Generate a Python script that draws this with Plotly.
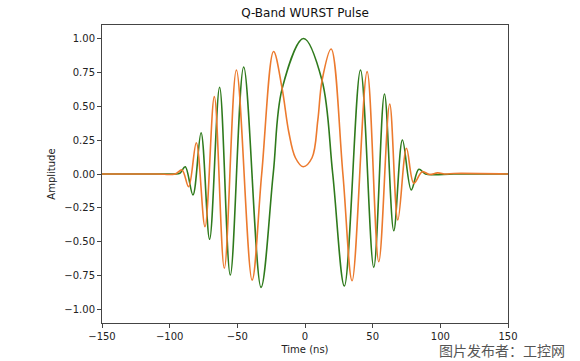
import plotly.graph_objects as go

# Green trace: time (ns) and amplitude at extrema / zero crossings
green_t = [-150, -110, -97, -92.5, -88.5, -82.8, -76.8, -70.5, -63.1, -55.2, -45.3,
           -32.5, -23.5, -16.9, -1.0, 12.6, 20.5, 29.1, 41.0, 50.8, 58.7,
           65.6, 72.0, 78.5, 84.1, 89, 95, 110, 150]
green_v = [0.0, 0.0, 0.0, 0.005, 0.054, -0.155, 0.305, -0.482, 0.640, -0.746, 0.790,
           -0.837, 0.0, 0.63, 1.0, 0.69, 0.0, -0.827, 0.768, -0.689, 0.591,
           -0.419, 0.251, -0.118, 0.035, 0.0, -0.006, 0.0, 0.0]

# Orange trace
orange_t = [-150, -110, -96, -90.9, -86.0, -80.3, -73.9, -67.0, -59.6, -50.7, -39.1,
            -32.0, -23.2, -16.9, -12.0, -7.1, -1.4, 5.2, 9.5, 12.6, 19.3, 28.0, 34.8, 45.9, 54.5,
            62.6, 68.6, 75.0, 80.4, 86.6, 92, 98, 104, 110, 150]
orange_v = [0.0, 0.0, 0.0, 0.03, -0.094, 0.231, -0.389, 0.571, -0.696, 0.768, -0.783,
            0.0, 0.904, 0.63, 0.31, 0.12, 0.054, 0.12, 0.40, 0.69, 0.923, 0.0, -0.788, 0.756, -0.648,
            0.517, -0.340, 0.190, -0.069, 0.017, -0.004, 0.008, 0.0, 0.004, 0.0]

x_ticks = [-150, -100, -50, 0, 50, 100, 150]
x_tick_text = ["\u2212150", "\u2212100", "\u221250", "0", "50", "100", "150"]
y_ticks = [1.0, 0.75, 0.5, 0.25, 0.0, -0.25, -0.5, -0.75, -1.0]
y_tick_text = ["1.00", "0.75", "0.50", "0.25", "0.00", "\u22120.25", "\u22120.50", "\u22120.75", "\u22121.00"]

GREEN = "#2f7a1c"
ORANGE = "#ec7a2e"
FONT = "DejaVu Sans"

fig = go.Figure()
fig.add_trace(go.Scatter(x=green_t, y=green_v, mode="lines",
                         line=dict(color=GREEN, width=1.6, shape="spline", smoothing=1.0),
                         showlegend=False, hoverinfo="skip"))
fig.add_trace(go.Scatter(x=orange_t, y=orange_v, mode="lines",
                         line=dict(color=ORANGE, width=1.6, shape="spline", smoothing=1.0),
                         showlegend=False, hoverinfo="skip"))

axis_common = dict(showgrid=False, zeroline=False, showline=True, linecolor="#444",
                   linewidth=1, mirror=True, ticks="outside", ticklen=4, tickwidth=1,
                   tickcolor="#444", automargin=False,
                   tickfont=dict(family=FONT, size=10, color="#222"))

fig.update_xaxes(range=[-150, 150], tickvals=x_ticks, ticktext=x_tick_text,
                 title=dict(text="Time (ns)", font=dict(family=FONT, size=10, color="#222"), standoff=4),
                 **axis_common)
fig.update_yaxes(range=[-1.1, 1.1], tickvals=y_ticks, ticktext=y_tick_text,
                 title=dict(text="Amplitude", font=dict(family=FONT, size=10, color="#222"), standoff=6),
                 **axis_common)

fig.update_layout(
    width=580, height=361,
    margin=dict(l=102, r=72, t=25, b=38, autoexpand=False),
    paper_bgcolor="white", plot_bgcolor="white",
    title=dict(text="Q-Band WURST Pulse", x=(305) / 580, xanchor="center",
               y=1 - 13 / 361, yanchor="middle", automargin=False,
               font=dict(family=FONT, size=12, color="#111")),
    annotations=[dict(text="图片发布者：工控网", xref="paper", yref="paper",
                      x=(437 - 102) / 406, y=(323 - 350) / 298, xanchor="left", yanchor="middle",
                      showarrow=False,
                      font=dict(family="Noto Sans CJK SC", size=14, color="#555"))],
)

fig.write_html("out.html", config={"displayModeBar": False},
               post_script="document.body.style.margin='0';document.body.style.overflow='hidden';")
